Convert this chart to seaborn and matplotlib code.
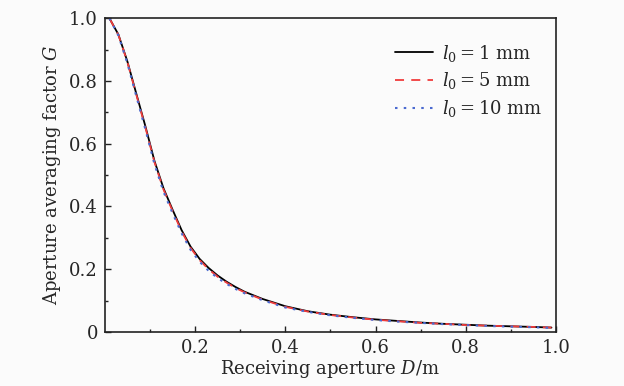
import numpy as np
import pandas as pd
import matplotlib
matplotlib.use("Agg")
import matplotlib.pyplot as plt
from matplotlib.ticker import FixedLocator, FuncFormatter
import seaborn as sns

# Data
D = [0.01, 0.03, 0.05, 0.07, 0.09, 0.11, 0.13, 0.15, 0.17, 0.19, 0.21, 0.23,
     0.25, 0.27, 0.29, 0.31, 0.35, 0.40, 0.45, 0.50, 0.55, 0.60, 0.65, 0.70,
     0.75, 0.80, 0.85, 0.90, 0.95, 0.99]
G_1mm = [1.0, 0.948, 0.862, 0.758, 0.655, 0.545, 0.458, 0.390, 0.325, 0.272,
         0.233, 0.204, 0.180, 0.160, 0.143, 0.128, 0.105, 0.082, 0.066, 0.055,
         0.047, 0.040, 0.035, 0.030, 0.026, 0.023, 0.020, 0.018, 0.016, 0.014]
G_5mm = [1.0, 0.947, 0.860, 0.755, 0.651, 0.541, 0.454, 0.386, 0.321, 0.268,
         0.229, 0.200, 0.176, 0.157, 0.140, 0.126, 0.103, 0.080, 0.065, 0.054,
         0.046, 0.039, 0.034, 0.029, 0.026, 0.022, 0.020, 0.018, 0.016, 0.014]
G_10mm = [1.0, 0.945, 0.856, 0.750, 0.645, 0.535, 0.447, 0.379, 0.315, 0.262,
          0.224, 0.195, 0.172, 0.153, 0.137, 0.123, 0.101, 0.078, 0.064, 0.053,
          0.045, 0.038, 0.033, 0.029, 0.025, 0.022, 0.019, 0.017, 0.015, 0.013]
labels = [r"$l_0 = 1$ mm", r"$l_0 = 5$ mm", r"$l_0 = 10$ mm"]
x_ticks = [0.2, 0.4, 0.6, 0.8, 1.0]
y_ticks = [0, 0.2, 0.4, 0.6, 0.8, 1.0]

sns.set_theme(style="ticks")
plt.rcParams['font.family'] = ['DejaVu Serif']
plt.rcParams['mathtext.fontset'] = 'dejavuserif'

fig = plt.figure(figsize=(6.24, 3.86), dpi=100, facecolor='#fbfbfb')
ax = fig.add_axes([0.168, 0.140, 0.723, 0.813])
ax.set_facecolor('#fbfbfb')

series = [(G_1mm, 'black', '-', 1.3), (G_5mm, '#f03c3c', (0, (5, 4)), 1.3),
          (G_10mm, '#4a6ad0', (0, (1.2, 3)), 1.5)]
for (g, c, ls, lw), lab in zip(series, labels):
    sns.lineplot(x=D, y=g, ax=ax, color=c, linestyle=ls, linewidth=lw, label=lab)

ax.set_xlim(0, 1.0)
ax.set_ylim(0, 1.0)
ax.xaxis.set_major_locator(FixedLocator(x_ticks))
ax.xaxis.set_minor_locator(FixedLocator([0.1, 0.3, 0.5, 0.7, 0.9]))
ax.yaxis.set_major_locator(FixedLocator(y_ticks))
ax.yaxis.set_minor_locator(FixedLocator([0.1, 0.3, 0.5, 0.7, 0.9]))
fmt = FuncFormatter(lambda v, p: "0" if abs(v) < 1e-9 else f"{v:.1f}")
ax.xaxis.set_major_formatter(fmt)
ax.yaxis.set_major_formatter(fmt)
ax.tick_params(which='both', direction='in', top=False, right=False,
               labelsize=13, width=1.0, color='#222222')
ax.tick_params(which='major', length=4.5, pad=5)
ax.tick_params(which='minor', length=2.5)
for s in ax.spines.values():
    s.set_linewidth(1.2)
    s.set_color('#222222')
    s.set_visible(True)

ax.set_xlabel(r"Receiving aperture $D$/m", fontsize=13, labelpad=1)
ax.set_ylabel(r"Aperture averaging factor $G$", fontsize=13, labelpad=4)

leg = ax.legend(loc='upper right', bbox_to_anchor=(0.985, 0.945), frameon=False,
                fontsize=13, handlelength=2.1, handletextpad=0.5,
                labelspacing=0.38, borderaxespad=0)

fig.savefig("out.png", dpi=100, facecolor=fig.get_facecolor())
